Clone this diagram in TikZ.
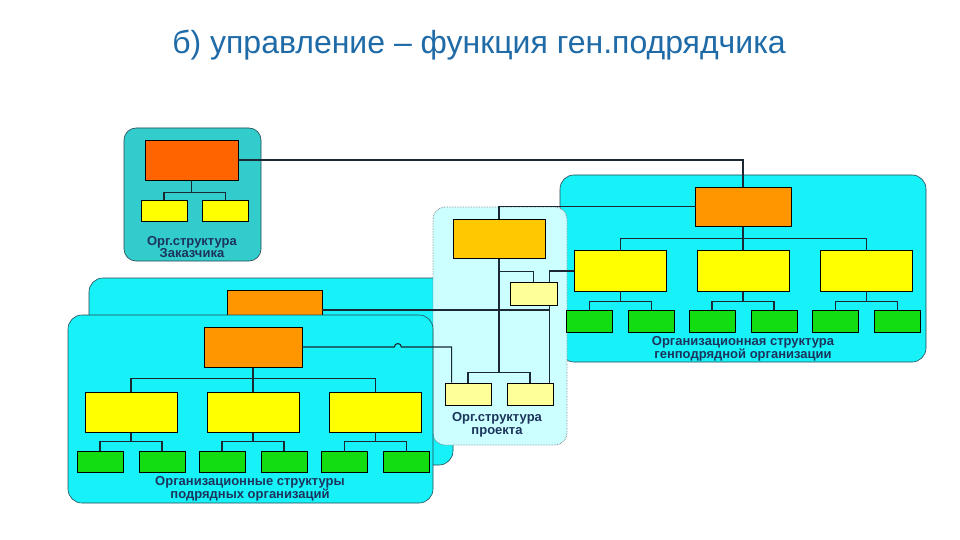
\documentclass[tikz,border=0pt]{standalone}
\usepackage{fontspec}
\setmainfont{Liberation Sans}
\usepackage{tikz}
\usetikzlibrary{positioning}
\definecolor{titleblue}{RGB}{31,107,168}
\definecolor{capblue}{RGB}{28,52,92}
\definecolor{tealpanel}{RGB}{51,204,204}
\definecolor{cyanpanel}{RGB}{22,242,248}
\definecolor{projpanel}{RGB}{204,255,255}
\definecolor{panelline}{RGB}{40,70,80}
\definecolor{redorange}{RGB}{255,100,0}
\definecolor{orangebox}{RGB}{255,150,0}
\definecolor{goldbox}{RGB}{255,200,0}
\definecolor{yellowbox}{RGB}{255,255,0}
\definecolor{greenbox}{RGB}{17,221,17}
\definecolor{paleyellow}{RGB}{255,255,153}
\definecolor{wirecol}{RGB}{25,40,50}
\pgfdeclarelayer{panels}
\pgfdeclarelayer{wires}
\pgfsetlayers{panels,wires,main}

\begin{document}
\begin{tikzpicture}[x=1pt,y=-1pt,node distance=3cm,on grid,
		box/.style={rectangle,draw=black,line width=0.7pt,inner sep=0pt},
		chief/.style={box,fill=orangebox,minimum width=96pt,minimum height=39pt},
		dept/.style={box,fill=yellowbox,minimum width=92pt,minimum height=41pt},
		unit/.style={box,fill=greenbox,minimum width=46pt,minimum height=22pt},
		panel/.style={rectangle,draw=panelline,line width=0.6pt,rounded corners=14pt,inner sep=0pt,fill=cyanpanel},
		caption/.style={font=\bfseries\fontsize{13}{12.8}\selectfont,text=capblue,align=center},
		wire/.style={draw=wirecol,line width=1.1pt}]
			\useasboundingbox (0,0) rectangle (960,540);
			\node[font=\fontsize{32}{35}\selectfont,text=titleblue] (title) at (479,45.5) {б) управление – функция ген.подрядчика};
			\begin{pgfonlayer}{panels}
			\fill[white] (0,0) rectangle (960,540);
			\node[panel,minimum width=364pt,minimum height=187pt] (bp) at (271,371.5) {};
			\node[chief,minimum width=95pt,minimum height=40pt] (bo) at (274.5,310) {};
			\node[panel,minimum width=366pt,minimum height=187pt] (gp) at (743,268.5) {};
			\node[panel,fill=projpanel,draw=gray,densely dotted,line width=0.9pt,rounded corners=12pt,minimum width=134pt,minimum height=238pt] (pp) at (500,326) {};
			\node[panel,fill=tealpanel,rounded corners=12pt,minimum width=137pt,minimum height=133pt] (zp) at (192.5,194.5) {};
			\node[panel,minimum width=365pt,minimum height=188pt] (fp) at (250.5,409) {};
			\end{pgfonlayer}
			\node[box,fill=redorange,minimum width=93pt,minimum height=40pt] (zo) at (191.5,160) {};
			\node[box,fill=yellowbox,minimum width=46pt,minimum height=21pt] (zy1) [below left=50.5pt and 27.5pt of zo] {};
			\node[box,fill=yellowbox,minimum width=46pt,minimum height=21pt] (zy2) [below right=50.5pt and 34pt of zo] {};
			\node[caption] (zcap) at (192,247) {Орг.структура\\Заказчика};
			\node[chief] (go) at (743,206.5) {};
			\node[dept] (gy2) [below=64.5pt of go] {};
			\node[dept] (gy1) [left=122.5pt of gy2] {};
			\node[dept] (gy3) [right=123.5pt of gy2] {};
			\node[unit] (gu1) [below left=50pt and 31pt of gy1] {};
			\node[unit] (gu2) [below right=50pt and 31pt of gy1] {};
			\node[unit] (gu3) [below left=50pt and 31pt of gy2] {};
			\node[unit] (gu4) [below right=50pt and 31pt of gy2] {};
			\node[unit] (gu5) [below left=50pt and 31pt of gy3] {};
			\node[unit] (gu6) [below right=50pt and 31pt of gy3] {};
			\node[caption] (gcap) at (743,348.5) {Организационная структура\\генподрядной организации};
			\node[box,fill=goldbox,minimum width=92pt,minimum height=39pt] (po) at (499,238.5) {};
			\node[box,fill=paleyellow,minimum width=47pt,minimum height=23pt] (ps) [below right=55pt and 34.5pt of po] {};
			\node[box,fill=paleyellow,minimum width=46pt,minimum height=22pt] (pb1) [below left=155.5pt and 31pt of po] {};
			\node[box,fill=paleyellow,minimum width=46pt,minimum height=22pt] (pb2) [below right=155.5pt and 31pt of po] {};
			\node[caption] (pcap) at (497,425) {Орг.структура\\проекта};
			\node[chief,minimum width=98pt,minimum height=40pt] (fo) at (253,347) {};
			\node[dept,minimum height=40pt] (fy2) [below=65pt of fo] {};
			\node[dept,minimum height=40pt] (fy1) [left=122pt of fy2] {};
			\node[dept,minimum height=40pt] (fy3) [right=122.5pt of fy2] {};
			\node[unit,minimum height=21pt] (fu1) [below left=49.5pt and 31pt of fy1] {};
			\node[unit,minimum height=21pt] (fu2) [below right=49.5pt and 31pt of fy1] {};
			\node[unit,minimum height=21pt] (fu3) [below left=49.5pt and 31pt of fy2] {};
			\node[unit,minimum height=21pt] (fu4) [below right=49.5pt and 31pt of fy2] {};
			\node[unit,minimum height=21pt] (fu5) [below left=49.5pt and 31pt of fy3] {};
			\node[unit,minimum height=21pt] (fu6) [below right=49.5pt and 31pt of fy3] {};
			\node[caption] (fcap) at (250,489) {Организационные структуры\\подрядных организаций};
			\begin{pgfonlayer}{wires}
			\draw[wire] (zo.east) -| (go.north);
			\draw[wire] (go.west) -| (po.north);
			\draw[wire] (zo.south) -- ++(0,12) -| (zy1.north);
			\draw[wire] (zo.south) -- ++(0,12) -| (zy2.north);
			\draw[wire] (go.south) -- ++(0,12.5) -| (gy1.north);
			\draw[wire] (go.south) -- (gy2.north);
			\draw[wire] (go.south) -- ++(0,12.5) -| (gy3.north);
			\draw[wire] (gy1.south) -- ++(0,9.5) -| (gu1.north);
			\draw[wire] (gy1.south) -- ++(0,9.5) -| (gu2.north);
			\draw[wire] (gy2.south) -- ++(0,9.5) -| (gu3.north);
			\draw[wire] (gy2.south) -- ++(0,9.5) -| (gu4.north);
			\draw[wire] (gy3.south) -- ++(0,9.5) -| (gu5.north);
			\draw[wire] (gy3.south) -- ++(0,9.5) -| (gu6.north);
			\draw[wire] (fo.south) -- ++(0,11) -| (fy1.north);
			\draw[wire] (fo.south) -- (fy2.north);
			\draw[wire] (fo.south) -- ++(0,11) -| (fy3.north);
			\draw[wire] (fy1.south) -- ++(0,9.5) -| (fu1.north);
			\draw[wire] (fy1.south) -- ++(0,9.5) -| (fu2.north);
			\draw[wire] (fy2.south) -- ++(0,9.5) -| (fu3.north);
			\draw[wire] (fy2.south) -- ++(0,9.5) -| (fu4.north);
			\draw[wire] (fy3.south) -- ++(0,9.5) -| (fu5.north);
			\draw[wire] (fy3.south) -- ++(0,9.5) -| (fu6.north);
			\draw[wire] (po.south) -- ++(0,114) -| (pb1.north);
			\draw[wire] (po.south) -- ++(0,114) -| (pb2.north);
			\draw[wire] (po.south) -- ++(0,13) -| (ps.north);
			\draw[wire] (gy1.west) -| ([xshift=-4pt]pb2.north east);
			\draw[wire] (bo.east) -| ([xshift=-4pt]pb2.north east);
			\draw[wire] (fo.east) -- ++(92,0) arc[start angle=180,end angle=360,radius=3.5] -| ([xshift=7pt]pb1.north west);
			\end{pgfonlayer}
		\end{tikzpicture}
\end{document}
